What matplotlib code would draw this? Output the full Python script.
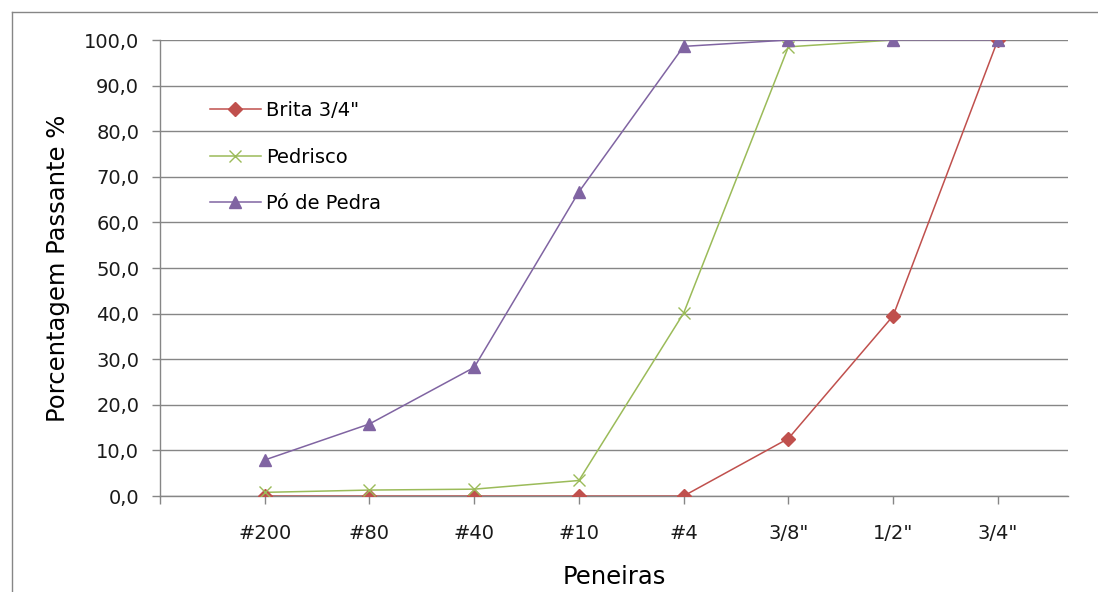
import numpy as np
import matplotlib
matplotlib.use("Agg")
import matplotlib.pyplot as plt
from matplotlib.lines import Line2D

# peneiras (categorias do eixo x)
peneiras = ['#200', '#80', '#40', '#10', '#4', '3/8"', '1/2"', '3/4"']

# porcentagem passante (%)
brita = [0.0, 0.0, 0.0, 0.0, 0.0, 12.6, 39.5, 100.0]
pedrisco = [0.8, 1.3, 1.5, 3.4, 40.1, 98.5, 100.0, 100.0]
po_pedra = [7.9, 15.8, 28.2, 66.7, 98.6, 100.0, 100.0, 100.0]

series = [
    ('Brita 3/4"', brita, '#C0504D', 'D', 7),
    ('Pedrisco', pedrisco, '#9BBB59', 'x', 9),
    ('Pó de Pedra', po_pedra, '#8064A2', '^', 8),
]

GRAY = '#868686'

plt.rcParams['font.family'] = ['DejaVu Sans']

W, H = 1098, 592
fig = plt.figure(figsize=(W / 100, H / 100), dpi=100)
ax = fig.add_axes([160 / W, 1 - 496 / H, (1068 - 160) / W, (496 - 40) / H])

x = np.arange(len(peneiras))
handles = []
for label, vals, color, marker, ms in series:
    # linha abaixo do eixo x, marcadores acima
    ax.plot(x, vals, color=color, lw=1.1, zorder=2)
    ax.plot(x, vals, linestyle='none', marker=marker, ms=ms, color=color,
            mew=1.0, zorder=3)
    handles.append(Line2D([], [], color=color, lw=1.1, marker=marker,
                          ms=ms, mew=1.0, label=label))

ax.set_xlim(-1, 7.67)
ax.set_ylim(0, 100)
ax.set_yticks(np.arange(0, 101, 10))
ax.set_yticklabels([f'{v:.1f}'.replace('.', ',') for v in np.arange(0, 101, 10)])
ax.set_xticks(np.arange(-1, len(peneiras)))
ax.set_xticklabels([''] + peneiras)

ax.grid(axis='y', color=GRAY, lw=1.0)
ax.set_axisbelow(True)
for s in ['top', 'right']:
    ax.spines[s].set_visible(False)
for s in ['left', 'bottom']:
    ax.spines[s].set_color(GRAY)
    ax.spines[s].set_linewidth(1.0)
ax.spines['bottom'].set_zorder(2.5)

ax.tick_params(axis='both', direction='out', length=6, width=1.0,
               color=GRAY, labelsize=14, labelcolor='#1a1a1a')
ax.tick_params(axis='y', pad=9)
ax.tick_params(axis='x', pad=14)

ax.set_ylabel('Porcentagem Passante %', fontsize=17.5, labelpad=10)
ax.set_xlabel('Peneiras', fontsize=17.5, labelpad=16)

fig.legend(handles=handles, loc='upper left',
           bbox_to_anchor=(210 / W, 1 - 101 / H), frameon=False,
           fontsize=14, handlelength=2.6, handletextpad=0.3,
           labelspacing=1.42, borderpad=0, borderaxespad=0)

# moldura externa do gráfico (só esquerda e topo aparecem)
bx, by = 11.5 / W, 1 - 11.5 / H
fig.add_artist(Line2D([bx, bx], [0, by], transform=fig.transFigure,
                      color=GRAY, lw=1.0))
fig.add_artist(Line2D([bx, 1], [by, by], transform=fig.transFigure,
                      color=GRAY, lw=1.0))

fig.savefig('out.png', dpi=100)
